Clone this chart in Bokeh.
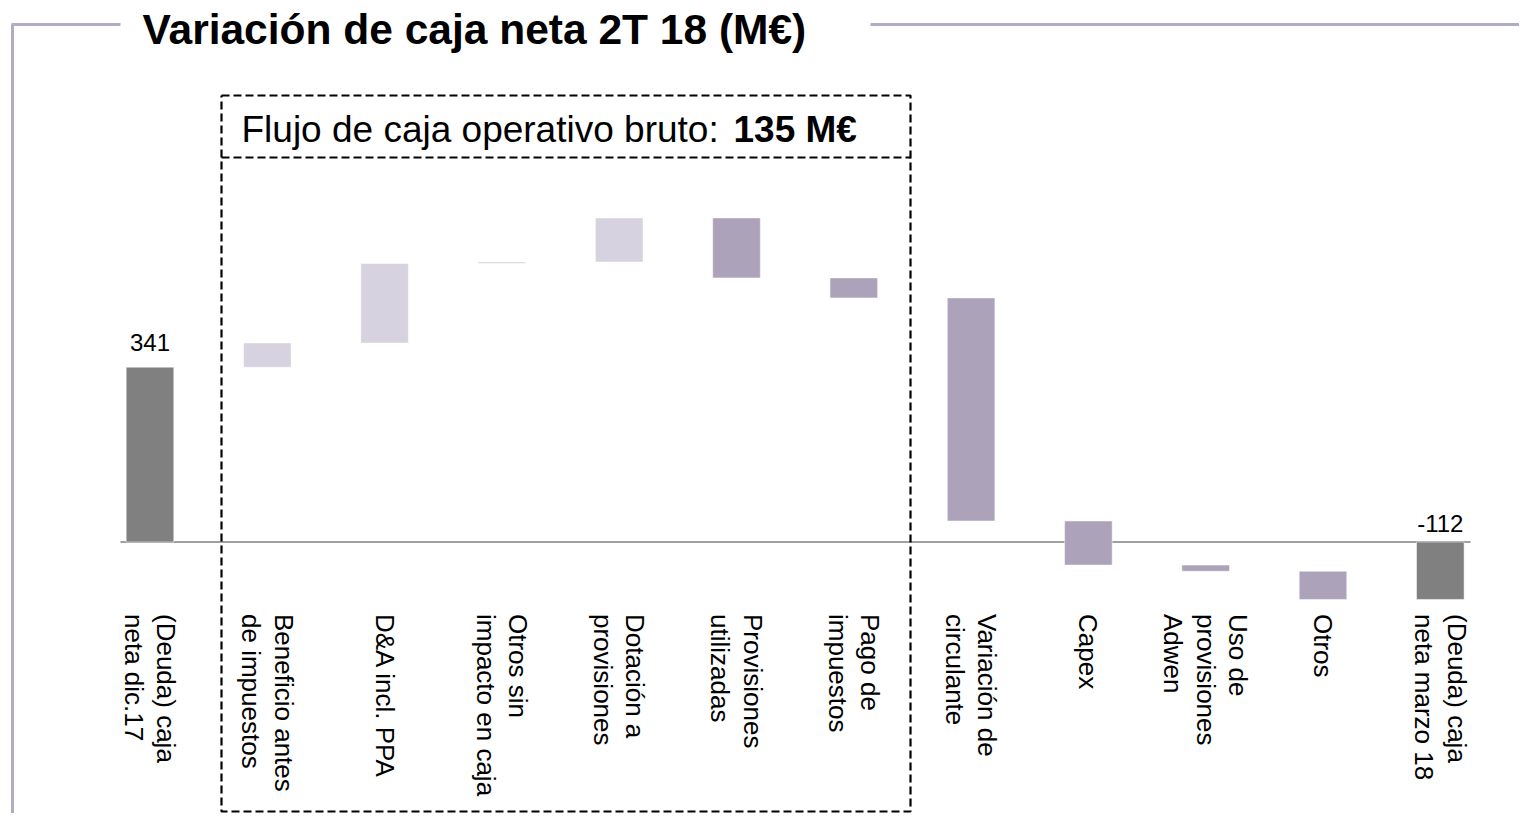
import numpy as np
from bokeh.plotting import figure
from bokeh.models import Range1d, ColumnDataSource
from bokeh.core.properties import value
from bokeh.embed import file_html
from bokeh.resources import INLINE

# ---------------- data ----------------
categories = [
    "(Deuda) caja\nneta dic.17",
    "Beneficio antes\nde impuestos",
    "D&A incl. PPA",
    "Otros sin\nimpacto en caja",
    "Dotación a\nprovisiones",
    "Provisiones\nutilizadas",
    "Pago de\nimpuestos",
    "Variación de\ncirculante",
    "Capex",
    "Uso de\nprovisiones\nAdwen",
    "Otros",
    "(Deuda) caja\nneta marzo 18",
]
start_value = 341
deltas = [47, 155, 3, 86, -117, -39, -435, -86, -12, -55]
end_value = -112
value_labels = ["341", "-112"]
title = "Variación de caja neta 2T 18 (M€)"
box_text = "Flujo de caja operativo bruto: "
box_bold = "135 M€"

# ---------------- layout helpers (reference pixel -> data) ----------------
W, H = 1519, 813
SPACING = 117.3         # px per category
X0_REF = 149.5          # px of first category centre
ZERO_REF = 541.5        # px of y = 0
UPP = 1.95              # data units per px


def px2x(px):
    return (px - X0_REF) / SPACING


def px2y(py):
    return (ZERO_REF - py) * UPP


GREY = "#808080"
LIGHT = "#D7D2DF"
DARK = "#ACA2B9"
FRAME = "#B3ABC6"
FONT = "Liberation Sans"

# ---------------- waterfall geometry ----------------
n = len(categories)
idx = np.arange(n)
cum = np.concatenate([[start_value], start_value + np.cumsum(deltas)])
bottoms = np.zeros(n)
tops = np.zeros(n)
colors = []
bottoms[0], tops[0] = 0, start_value
colors.append(GREY)
for k, d in enumerate(deltas):
    prev = cum[k]
    nxt = cum[k + 1]
    bottoms[k + 1] = min(prev, nxt)
    tops[k + 1] = max(prev, nxt)
    colors.append(LIGHT if d > 0 else DARK)
bottoms[-1], tops[-1] = min(0, end_value), max(0, end_value)
colors.append(GREY)

src = ColumnDataSource(dict(x=idx, bottom=bottoms, top=tops, color=colors))

p = figure(width=W, height=H, output_backend="svg", toolbar_location=None,
           x_range=Range1d(px2x(0), px2x(W)),
           y_range=Range1d(px2y(H), px2y(0)),
           x_axis_type=None, y_axis_type=None, min_border=0)
p.outline_line_color = None
p.grid.visible = False
p.background_fill_color = "white"

# frame lines
p.line([px2x(12), px2x(12)], [px2y(24), px2y(H + 5)], line_color=FRAME, line_width=3)
p.line([px2x(11), px2x(120)], [px2y(24), px2y(24)], line_color=FRAME, line_width=3)
p.line([px2x(870), px2x(W + 5)], [px2y(24), px2y(24)], line_color=FRAME, line_width=3)

# title
p.text(x=[px2x(142)], y=[px2y(29)], text=[title], text_font=value(FONT),
       text_font_size="42.5px", text_font_style="bold", text_color="black",
       text_align="left", text_baseline="middle")

# zero line
p.line([px2x(120), px2x(1470)], [0, 0], line_color="#808080", line_width=1.5)

# bars
p.vbar(x="x", bottom="bottom", top="top", width=47.6 / SPACING, fill_color="color",
       line_color="white", line_width=0.5, source=src)

# value labels for start and end bars
lab_src = ColumnDataSource(dict(x=[idx[0], idx[-1]],
                                y=[max(0, start_value), max(0, end_value)],
                                text=value_labels, off=[-16, -10]))
p.text(x="x", y="y", text="text", y_offset="off", source=lab_src,
       text_font=value(FONT), text_font_size="24px",
       text_align="center", text_baseline="bottom", text_color="black")

# category labels (rotated)
p.text(x=idx, y=np.zeros(n), text=categories, angle=-np.pi / 2,
       text_font=value(FONT), text_font_size="26px", text_align="left",
       text_baseline="middle", y_offset=72, text_line_height=1.08, text_color="black")

# dashed box around operating cash flow items
bl, br = px2x(221), px2x(910)
bt, bi, bb = px2y(95), px2y(157), px2y(min(815, H - 2))
p.line([bl, br, br, bl, bl], [bt, bt, bb, bb, bt], line_color="black",
       line_width=2.2, line_dash="8 4")
p.line([bl, br], [bi, bi], line_color="black", line_width=2.2, line_dash="8 4")

p.text(x=[px2x(241)], y=[px2y(129)], text=[box_text], text_font=value(FONT),
       text_font_size="37px", text_align="left", text_baseline="middle", text_color="black")
p.text(x=[px2x(733)], y=[px2y(129)], text=[box_bold], text_font=value(FONT),
       text_font_size="37px", text_font_style="bold", text_align="left",
       text_baseline="middle", text_color="black")

open("out.html", "w").write(file_html(p, INLINE))
